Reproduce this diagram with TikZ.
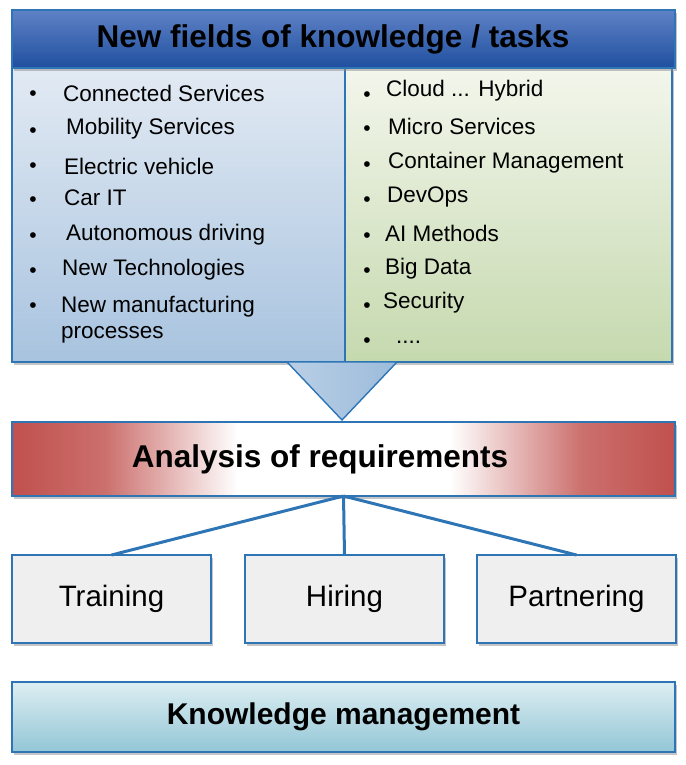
\documentclass[tikz,border=0pt]{standalone}
\usepackage{fontspec}
\setmainfont{Liberation Sans}
\usetikzlibrary{shadows}
\definecolor{edgeblue}{HTML}{2E75B6}
\definecolor{titletop}{HTML}{5F82C6}
\definecolor{titlebot}{HTML}{1F4F9F}
\definecolor{lefttop}{HTML}{E2EAF3}
\definecolor{leftbot}{HTML}{A8C3DF}
\definecolor{righttop}{HTML}{F3F6EC}
\definecolor{rightbot}{HTML}{C5D9AE}
\definecolor{redc}{HTML}{C0504D}
\definecolor{kmtop}{HTML}{DDEEF2}
\definecolor{kmbot}{HTML}{93C6D6}
\definecolor{boxgray}{HTML}{EFEFEF}
\pgfdeclarehorizontalshading{redfade}{100bp}{color(0bp)=(redc); color(25bp)=(redc); color(32bp)=(redc!82!white); color(42bp)=(white); color(58bp)=(white); color(68bp)=(redc!82!white); color(75bp)=(redc); color(100bp)=(redc)}
\tikzset{
  panel/.style={draw=edgeblue, line width=1.4pt, anchor=north west, inner sep=0pt, outer sep=0pt},
  shadowed/.style={drop shadow={shadow xshift=2pt, shadow yshift=-3pt, fill=black!45, opacity=0.5}},
  item/.style={anchor=west, inner sep=0pt, font=\fontsize{22.5}{26}\selectfont},
  bul/.style={inner sep=0pt, yshift=-5pt, font=\fontsize{21}{24}\selectfont},
  conn/.style={draw=edgeblue, line width=3pt},
  choice/.style={panel, fill=boxgray, minimum width=199pt, minimum height=88pt, shadowed, font=\fontsize{29.5}{33}\selectfont}
}
\begin{document}
\begin{tikzpicture}[x=1pt,y=-1pt]
\useasboundingbox (0,0) rectangle (685,765);
% panels
\node[panel, shadowed, top color=lefttop, bottom color=leftbot, minimum width=333pt, minimum height=294pt] (left) at (12,68) {};
\node[panel, shadowed, top color=righttop, bottom color=rightbot, minimum width=327pt, minimum height=294pt] (right) at (345,68) {};
\node[panel, shadowed, top color=titletop, bottom color=titlebot, minimum width=663pt, minimum height=58pt] (title) at (12,10) {};
\node[font=\bfseries\fontsize{31.5}{34}\selectfont, inner sep=0pt] (titletext) at (333,39) {New fields of knowledge / tasks};
% triangle
\coordinate (tl) at (287,362);
\coordinate (tr) at (397,362);
\coordinate (tb) at (342,420);
\draw[edgeblue, line width=1.4pt, left color=leftbot!80!white, right color=leftbot!90!edgeblue] (tl) -- (tr) -- (tb) -- cycle;
% left list
\node[bul] (lb1) at (33,91) {•};
\node[item] (l1) at (63,93) {Connected Services};
\node[bul] (lb2) at (33,128) {•};
\node[item] (l2) at (66,129) {Mobility Services};
\node[bul] (lb3) at (33,163) {•};
\node[item] (l3) at (64,166) {Electric vehicle};
\node[bul] (lb4) at (33,197) {•};
\node[item] (l4) at (64,198) {Car IT};
\node[bul] (lb5) at (33,233) {•};
\node[item] (l5) at (66,235) {Autonomous driving};
\node[bul] (lb6) at (33,268) {•};
\node[item] (l6) at (62,270) {New Technologies};
\node[bul] (lb7) at (33,303) {•};
\node[item, align=left] (l7) at (61,320) {New manufacturing\\processes};
% right list
\node[bul] (rb1) at (367,92) {•};
\node[item] (r1) at (386,91) {Cloud ... Hybrid};
\node[bul] (rb2) at (367,126) {•};
\node[item] (r2) at (388,126) {Micro Services};
\node[bul] (rb3) at (367,162) {•};
\node[item] (r3) at (388,163) {Container Management};
\node[bul] (rb4) at (367,197) {•};
\node[item] (r4) at (387,197) {DevOps};
\node[bul] (rb5) at (367,233) {•};
\node[item] (r5) at (385,233) {AI Methods};
\node[bul] (rb6) at (367,268) {•};
\node[item] (r6) at (385,269) {Big Data};
\node[bul] (rb7) at (367,303) {•};
\node[item] (r7) at (383,303) {Security};
\node[bul] (rb8) at (367,338) {•};
\node[item] (r8) at (396,342) {....};
% analysis
\node[panel, shadowed, shading=redfade, minimum width=663pt, minimum height=74pt] (ana) at (12,422) {};
\node[font=\bfseries\fontsize{31.5}{34}\selectfont, inner sep=0pt] (anatext) at (320,459) {Analysis of requirements};
% choices
\node[choice] (train) at (12,555) {Training};
\node[choice] (hire) at (245,555) {Hiring};
\node[choice] (part) at (477,555) {Partnering};
\draw[conn] (ana.south) -- (train.north);
\draw[conn] (ana.south) -- (hire.north);
\draw[conn] (ana.south) -- (part.north);
% knowledge management
\node[panel, shadowed, top color=kmtop, bottom color=kmbot, minimum width=663pt, minimum height=70pt, font=\bfseries\fontsize{30}{33}\selectfont] (km) at (12,682) {Knowledge management};
\end{tikzpicture}
\end{document}
